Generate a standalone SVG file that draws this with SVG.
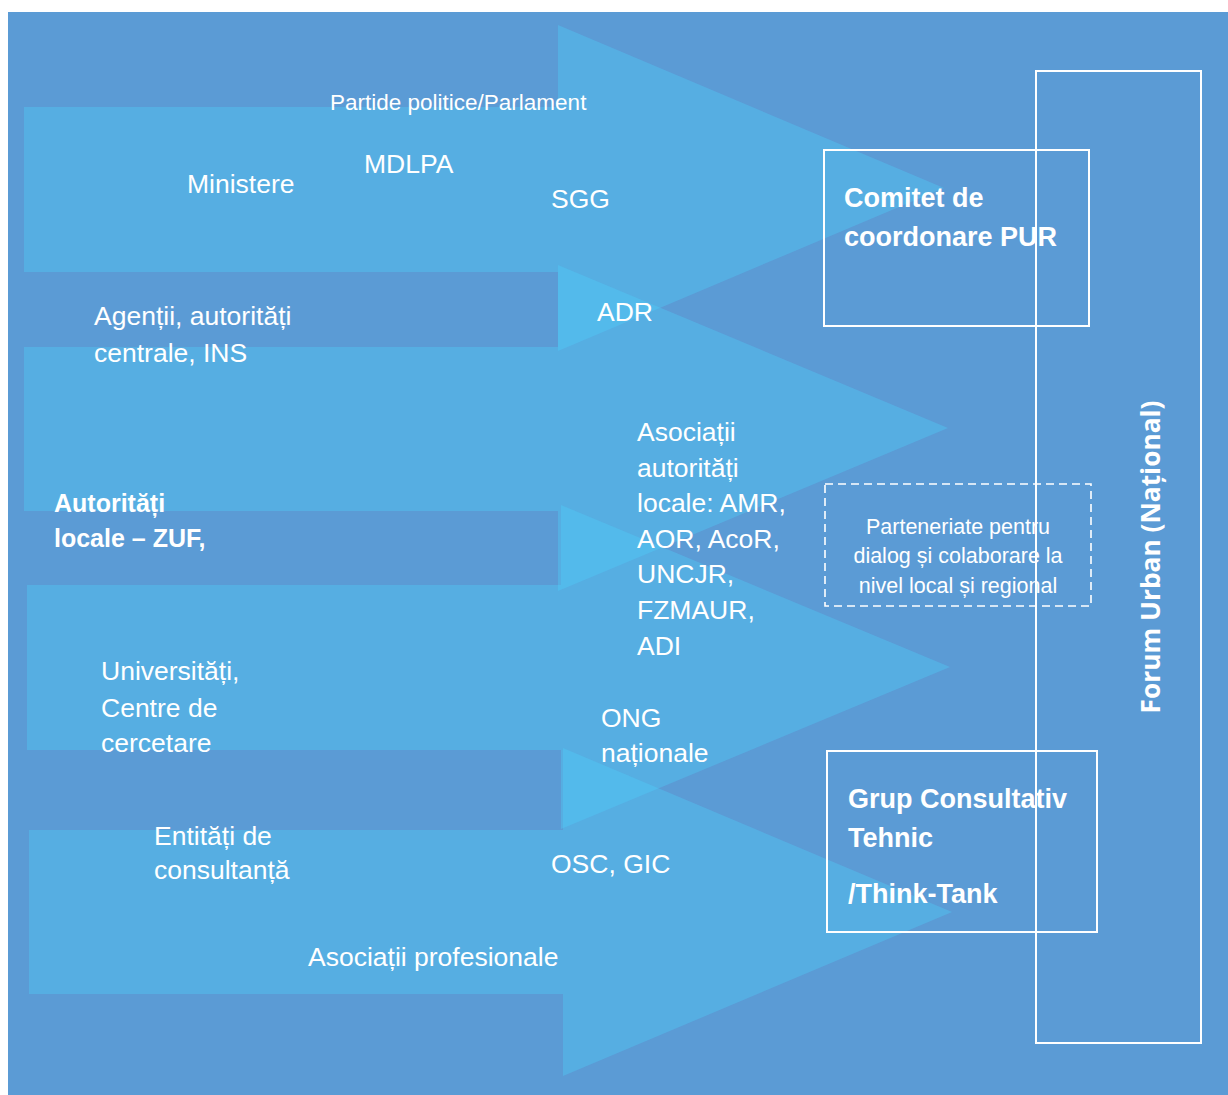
<svg xmlns="http://www.w3.org/2000/svg" width="1228" height="1095" viewBox="0 0 1228 1095">
  <style>
    .t { font-family: "Liberation Sans", Arial, sans-serif; font-size: 26.5px; fill: #ffffff; }
    .s { font-size: 22.5px; }
    .b { font-weight: bold; font-size: 27px; }
    .d { font-size: 21.5px; }
    .f { font-family: "Open Sans", "Liberation Sans", sans-serif; font-weight: bold; font-size: 26.3px; }
    .arrow { fill: #50CDFA; fill-opacity: 0.37; }
    .box { fill: none; stroke: #ffffff; stroke-width: 2; }
    .dash { fill: none; stroke: #ffffff; stroke-width: 1.6; stroke-dasharray: 8 5; }
  </style>
  <rect x="0" y="0" width="1228" height="1095" fill="#ffffff"/>
  <rect id="background" x="8" y="12" width="1220" height="1083" fill="#5B9BD5"/>

  <g id="connectors">
    <polygon id="arrow-1" class="arrow" points="24,107 558,107 558,25 944,188 558,351 558,272 24,272"/>
    <polygon id="arrow-2" class="arrow" points="24,347 558,347 558,265 948,428 558,591 558,511 24,511"/>
    <polygon id="arrow-3" class="arrow" points="27,585 561,585 561,505 950,667 561,829 561,750 27,750"/>
    <polygon id="arrow-4" class="arrow" points="29,830 563,830 563,748 952,912 563,1076 563,994 29,994"/>
  </g>

  <g id="forum">
    <rect class="box" x="1036" y="71" width="165" height="972"/>
    <text class="t f" transform="translate(1160,557) rotate(-90)" text-anchor="middle">Forum Urban (Național)</text>
  </g>

  <g id="comitet">
    <rect class="box" x="824" y="150" width="265" height="176"/>
    <text class="t b" x="844" y="207">Comitet de</text>
    <text class="t b" x="844" y="246">coordonare PUR</text>
  </g>

  <g id="parteneriate">
    <rect class="dash" x="825" y="484" width="266" height="122"/>
    <text class="t d" x="958" y="534" text-anchor="middle">Parteneriate pentru</text>
    <text class="t d" x="958" y="563" text-anchor="middle">dialog și colaborare la</text>
    <text class="t d" x="958" y="593" text-anchor="middle">nivel local și regional</text>
  </g>

  <g id="grup">
    <rect class="box" x="827" y="751" width="270" height="181"/>
    <text class="t b" x="848" y="808">Grup Consultativ</text>
    <text class="t b" x="848" y="847">Tehnic</text>
    <text class="t b" x="848" y="903">/Think-Tank</text>
  </g>

  <g id="partide"><text class="t s" x="330" y="110">Partide politice/Parlament</text></g>
  <g id="ministere"><text class="t" x="187" y="193">Ministere</text></g>
  <g id="mdlpa"><text class="t" x="364" y="173">MDLPA</text></g>
  <g id="sgg"><text class="t" x="551" y="208">SGG</text></g>
  <g id="adr"><text class="t" x="597" y="321">ADR</text></g>
  <g id="agentii">
    <text class="t" x="94" y="325">Agenții, autorități</text>
    <text class="t" x="94" y="362">centrale, INS</text>
  </g>
  <g id="asociatii-autoritati">
    <text class="t" x="637" y="441">Asociații</text>
    <text class="t" x="637" y="477">autorități</text>
    <text class="t" x="637" y="512">locale: AMR,</text>
    <text class="t" x="637" y="548">AOR, AcoR,</text>
    <text class="t" x="637" y="583">UNCJR,</text>
    <text class="t" x="637" y="619">FZMAUR,</text>
    <text class="t" x="637" y="655">ADI</text>
  </g>
  <g id="autoritati-locale">
    <text class="t b" style="font-size:25px" x="54" y="512">Autorități</text>
    <text class="t b" style="font-size:25px" x="54" y="547">locale – ZUF,</text>
  </g>
  <g id="universitati">
    <text class="t" x="101" y="680">Universități,</text>
    <text class="t" x="101" y="717">Centre de</text>
    <text class="t" x="101" y="752">cercetare</text>
  </g>
  <g id="ong">
    <text class="t" x="601" y="727">ONG</text>
    <text class="t" x="601" y="762">naționale</text>
  </g>
  <g id="entitati">
    <text class="t" x="154" y="845">Entități de</text>
    <text class="t" x="154" y="879">consultanță</text>
  </g>
  <g id="osc"><text class="t" x="551" y="873">OSC, GIC</text></g>
  <g id="asociatii-profesionale"><text class="t" x="308" y="966">Asociații profesionale</text></g>
</svg>
